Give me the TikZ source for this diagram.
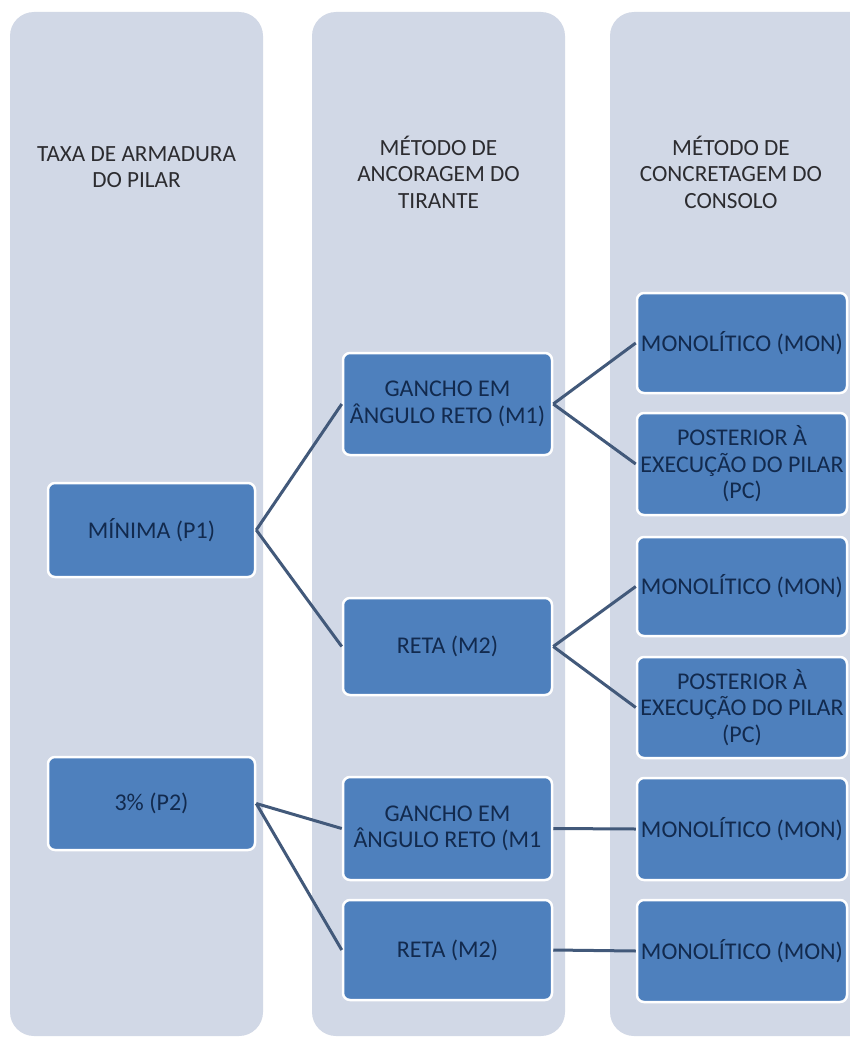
\documentclass[tikz,border=0pt]{standalone}
\usepackage{fontspec}
\setmainfont{Carlito}
\definecolor{colbg}{HTML}{D1D8E6}
\definecolor{boxblue}{HTML}{4E80BD}
\definecolor{boxtext}{HTML}{122A4E}
\definecolor{hdrtext}{HTML}{2C2C30}
\definecolor{linkc}{HTML}{42597A}
\tikzset{
  colbox/.style={fill=colbg, draw=none, rounded corners=24pt},
  box/.style={draw=white, line width=2.5pt, fill=boxblue, rounded corners=7pt,
    text=boxtext, align=center, inner sep=0pt,
    font=\fontsize{24}{26.5}\selectfont},
  hdr/.style={text=hdrtext, align=center, inner sep=0pt,
    font=\fontsize{23.2}{26.5}\selectfont},
  link/.style={draw=linkc, line width=3pt}
}
\begin{document}
\begin{tikzpicture}[x=1pt,y=-1pt]
\useasboundingbox (0,0) rectangle (850,1041);
\clip (0,0) rectangle (850,1041);
\fill[white] (0,0) rectangle (850,1041);
% columns
\path[colbox] (10,12) rectangle (263,1036);
\path[colbox] (312,12) rectangle (565,1036);
\path[colbox] (610,12) rectangle (876,1036);
% headers
\node[hdr] (h1) at (136.5,167) {TAXA DE ARMADURA\\DO PILAR};
\node[hdr] (h2) at (438.5,172) {MÉTODO DE\\ANCORAGEM DO\\TIRANTE};
\node[hdr] (h3) at (731,172) {MÉTODO DE\\CONCRETAGEM DO\\CONSOLO};
% level 1
\node[box, minimum width=207pt, minimum height=94pt] (p1) at (151.5,530) {MÍNIMA (P1)};
\node[box, minimum width=207pt, minimum height=93pt] (p2) at (151.5,803.5) {3\% (P2)};
% level 2
\node[box, minimum width=209pt, minimum height=102pt] (m1a) at (447.5,404) {GANCHO EM\\ÂNGULO RETO (M1)};
\node[box, minimum width=209pt, minimum height=97pt] (m2a) at (447.5,646.5) {RETA (M2)};
\node[box, minimum width=209pt, minimum height=103pt] (m1b) at (447.5,828.5) {GANCHO EM\\ÂNGULO RETO (M1};
\node[box, minimum width=209pt, minimum height=100pt] (m2b) at (447.5,950) {RETA (M2)};
% level 3
\node[box, minimum width=210pt, minimum height=100pt] (c1) at (742,343) {MONOLÍTICO (MON)};
\node[box, minimum width=210pt, minimum height=102pt] (c2) at (742,464) {POSTERIOR À\\EXECUÇÃO DO PILAR\\(PC)};
\node[box, minimum width=210pt, minimum height=99pt] (c3) at (742,586.5) {MONOLÍTICO (MON)};
\node[box, minimum width=210pt, minimum height=101pt] (c4) at (742,707.5) {POSTERIOR À\\EXECUÇÃO DO PILAR\\(PC)};
\node[box, minimum width=210pt, minimum height=102pt] (c5) at (742,829) {MONOLÍTICO (MON)};
\node[box, minimum width=210pt, minimum height=102pt] (c6) at (742,951) {MONOLÍTICO (MON)};
% connectors
\draw[link] (p1.east) -- (m1a.west);
\draw[link] (p1.east) -- (m2a.west);
\draw[link] (p2.east) -- (m1b.west);
\draw[link] (p2.east) -- (m2b.west);
\draw[link] (m1a.east) -- (c1.west);
\draw[link] (m1a.east) -- (c2.west);
\draw[link] (m2a.east) -- (c3.west);
\draw[link] (m2a.east) -- (c4.west);
\draw[link] (m1b.east) -- (c5.west);
\draw[link] (m2b.east) -- (c6.west);
\end{tikzpicture}
\end{document}
